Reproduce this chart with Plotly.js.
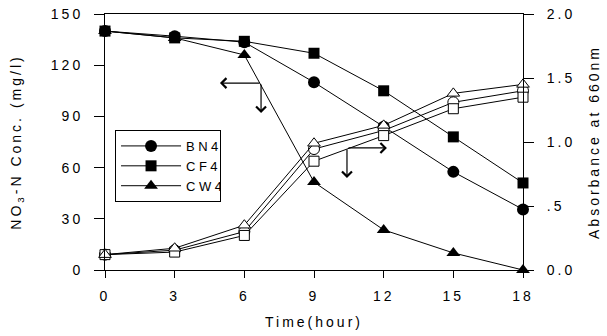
<!DOCTYPE html>
<html>
<head>
<meta charset="utf-8">
<script src="https://cdn.plot.ly/plotly-3.0.1.min.js"></script>
<style>
html,body{margin:0;padding:0;background:#fff;}
#chart{width:607px;height:336px;}
.main-svg text{letter-spacing:3px;}
.main-svg .legend text{letter-spacing:3.5px;}
</style>
</head>
<body>
<div id="chart"></div>
<script>
// Time (hour)
var time = [0, 3, 6, 9, 12, 15, 18];
// NO3-N concentration (mg/l), left axis
var no3_BN4 = [140, 137, 133.5, 110, 84, 57.5, 35.5];
var no3_CF4 = [140, 136, 134, 127, 105, 78, 51];
var no3_CW4 = [140, 136, 126, 51.5, 23.5, 10, 0];
// Absorbance at 660nm, right axis
var abs_BN4 = [0.12, 0.155, 0.30, 0.945, 1.09, 1.31, 1.40];
var abs_CF4 = [0.12, 0.14, 0.27, 0.85, 1.05, 1.26, 1.35];
var abs_CW4 = [0.12, 0.17, 0.35, 0.99, 1.13, 1.38, 1.45];
var seriesNames = ["BN4", "CF4", "CW4"];
var symbols = ["circle", "square", "triangle-up"];
var rightTickVals = [0, 0.5, 1.0, 1.5, 2.0];
var rightTickText = ["0.0", ".5", "1.0", "1.5", "2.0"];

var no3 = [no3_BN4, no3_CF4, no3_CW4];
var abs = [abs_BN4, abs_CF4, abs_CW4];
var sizes = [12, 11, 12];
var traces = [];
for (var i = 0; i < 3; i++) {
  traces.push({
    x: time, y: abs[i], yaxis: "y2", mode: "lines+markers", showlegend: false,
    cliponaxis: false,
    line: {color: "#000", width: 1},
    marker: {symbol: symbols[i], size: sizes[i] - 1, color: "#fff", line: {color: "#000", width: 1}}
  });
}
for (var j = 0; j < 3; j++) {
  traces.push({
    x: time, y: no3[j], name: seriesNames[j], mode: "lines+markers",
    cliponaxis: false,
    line: {color: "#000", width: 1},
    marker: {symbol: symbols[j], size: sizes[j], color: "#000"}
  });
}

var font = {family: "Liberation Sans, Arial, sans-serif", size: 14, color: "#000"};
var lfont = {family: "Liberation Sans, Arial, sans-serif", size: 13, color: "#000"};
var layout = {
  width: 607, height: 336,
  margin: {l: 105, r: 84, t: 14, b: 66},
  paper_bgcolor: "#fff", plot_bgcolor: "#fff",
  font: font,
  showlegend: true,
  legend: {x: 0.024, y: 0.547, xanchor: "left", yanchor: "top",
           bordercolor: "#000", borderwidth: 1, bgcolor: "#fff",
           font: lfont, tracegroupgap: 0, itemwidth: 60},
  xaxis: {range: [0, 18], tickvals: time, showgrid: false, zeroline: false,
          showline: true, linecolor: "#000", linewidth: 1, mirror: true,
          ticks: "outside", ticklen: 7, tickcolor: "#000", ticklabelstandoff: 6,
          tickfont: font,
          title: {text: "Time(hour)", font: font, standoff: 14}},
  yaxis: {range: [0, 150], dtick: 30, showgrid: false, zeroline: false,
          showline: true, linecolor: "#000", linewidth: 1,
          ticks: "outside", ticklen: 10, tickcolor: "#000", ticklabelstandoff: 8,
          tickfont: font,
          title: {text: "NO<sub>3</sub>-N Conc. (mg/l)", font: font, standoff: 34}},
  yaxis2: {range: [0, 2], overlaying: "y", side: "right",
           tickvals: rightTickVals, ticktext: rightTickText,
           showgrid: false, zeroline: false,
           showline: true, linecolor: "#000", linewidth: 1,
           ticks: "outside", ticklen: 10, tickcolor: "#000", ticklabelstandoff: 10,
           tickfont: font,
           title: {text: "Absorbance at 660nm", font: font, standoff: 23}},
  annotations: [
    {x: 4.95, y: 109.5, ax: 6.72, ay: 109.5, axref: "x", ayref: "y", xref: "x", yref: "y",
     showarrow: true, arrowhead: 4, arrowsize: 1.6, arrowwidth: 1.2, arrowcolor: "#000", text: ""},
    {x: 6.72, y: 92, ax: 6.72, ay: 109.5, axref: "x", ayref: "y", xref: "x", yref: "y",
     showarrow: true, arrowhead: 4, arrowsize: 1.6, arrowwidth: 1.2, arrowcolor: "#000", text: ""},
    {x: 12.14, y: 71.5, ax: 10.42, ay: 71.5, axref: "x", ayref: "y", xref: "x", yref: "y",
     showarrow: true, arrowhead: 4, arrowsize: 1.6, arrowwidth: 1.2, arrowcolor: "#000", text: ""},
    {x: 10.42, y: 53.9, ax: 10.42, ay: 71.5, axref: "x", ayref: "y", xref: "x", yref: "y",
     showarrow: true, arrowhead: 4, arrowsize: 1.6, arrowwidth: 1.2, arrowcolor: "#000", text: ""}
  ]
};
Plotly.newPlot("chart", traces, layout, {displayModeBar: false, staticPlot: true});
</script>
</body>
</html>
